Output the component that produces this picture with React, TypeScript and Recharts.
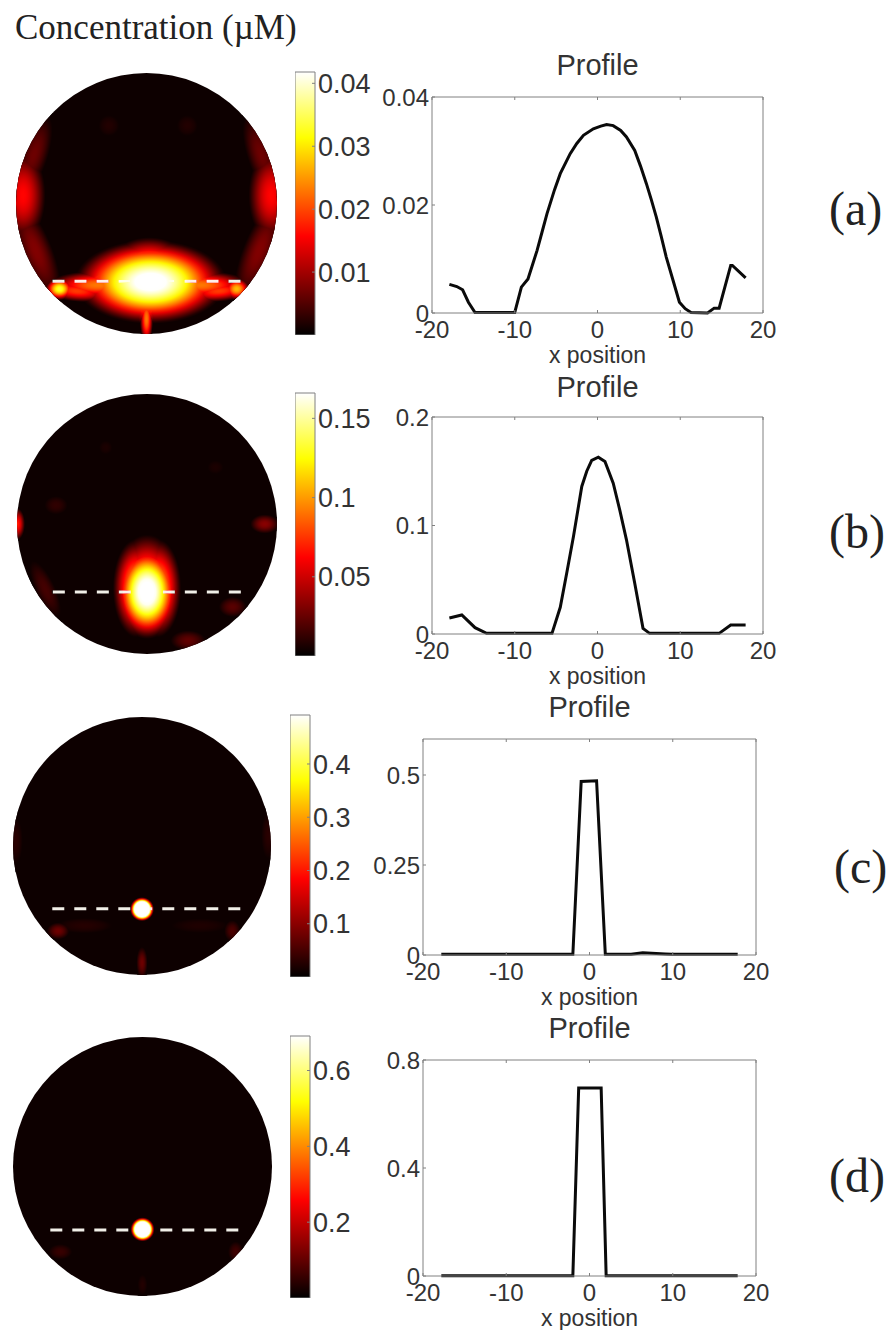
import { Bar, BarChart, Line, LineChart, ReferenceLine, Scatter, ScatterChart, XAxis, YAxis } from "recharts";

// profile along the dashed line
const profileA = [
  [-17.9, 0.0053], [-17, 0.0049], [-16.3, 0.0043], [-15.6, 0.002], [-14.8, 0.0001], [-10, 0.0001],
  [-9.2, 0.0048], [-8.4, 0.0063], [-7.3, 0.0116], [-6.7, 0.015], [-6.1, 0.0184], [-5.2, 0.0228], [-4.5, 0.0258],
  [-3.3, 0.0295], [-2.5, 0.0314], [-1.7, 0.0329], [-0.5, 0.0341], [0.4, 0.0346], [1.1, 0.0349], [1.9, 0.0347],
  [2.8, 0.0338], [3.5, 0.0326], [4.5, 0.0301], [5.2, 0.0272], [5.9, 0.024], [6.5, 0.021], [7.1, 0.0178],
  [7.7, 0.0142], [8.3, 0.0104], [9.1, 0.0062], [9.9, 0.002], [10.6, 0.0008], [11.3, 0.0001], [13.3, 0],
  [14.1, 0.0009], [14.7, 0.0009], [16.1, 0.0088], [16.3, 0.0088], [17.9, 0.0065],
];
const profileB = [
  [-17.9, 0.0148], [-16.4, 0.0175], [-14.8, 0.0058], [-13.4, 0.0006], [-5.5, 0.0006], [-4.5, 0.0246],
  [-3.7, 0.057], [-2.9, 0.09], [-1.9, 0.136], [-1.3, 0.15], [-0.7, 0.16], [0.1, 0.163], [0.9, 0.159], [1.9, 0.139],
  [2.7, 0.114], [3.5, 0.0868], [4.5, 0.0468], [5.5, 0.0052], [6.3, 0.0006], [14.7, 0.0006], [16.1, 0.0083], [17.9, 0.0083],
];
const profileC = [
  [-17.8, 0.002], [-2, 0.002], [-1, 0.482], [0.85, 0.484], [1.9, 0.002], [5, 0.002],
  [6.4, 0.006], [9.1, 0.003], [9.9, 0.002], [17.8, 0.002],
];
const profileD = [
  [-17.8, 0.001], [-2, 0.001], [-1.3, 0.696], [1.4, 0.696], [2, 0.001], [17.8, 0.001],
];

// x, y, half widths (same units as the profile x axis), peak of the colour scale, tilt in degrees
const blobsA = [
  { x: 0.75, y: -14.6, rx: 14.5, ry: 8, v: 1.06, a: 0 },
  { x: 0.5, y: -11.5, rx: 8, ry: 5.5, v: 0.55, a: 0 },
  { x: -7, y: -13.6, rx: 9, ry: 3, v: 0.45, a: -20 },
  { x: 8, y: -13.6, rx: 9, ry: 3, v: 0.45, a: 20 },
  { x: -9, y: -15.2, rx: 10, ry: 2.8, v: 0.55, a: 0 },
  { x: 10, y: -15.2, rx: 10, ry: 2.8, v: 0.55, a: 0 },
  { x: -13, y: -16.3, rx: 7, ry: 2.1, v: 0.46, a: 5 },
  { x: 13.5, y: -16.3, rx: 7, ry: 2.1, v: 0.46, a: -5 },
  { x: -16.2, y: -15.9, rx: 2.8, ry: 2.2, v: 0.8, a: 0 },
  { x: 16.8, y: -15.9, rx: 2.6, ry: 2.2, v: 0.65, a: 0 },
  { x: 0, y: -21.5, rx: 1.3, ry: 5, v: 0.55, a: 0 },
  { x: 0, y: -19, rx: 3.4, ry: 3.8, v: 0.5, a: 0 },
  { x: -23, y: 1.5, rx: 4.5, ry: 9, v: 0.38, a: 0 },
  { x: 23.2, y: 1.5, rx: 4.5, ry: 9, v: 0.38, a: 0 },
  { x: -20.6, y: -8.8, rx: 3.4, ry: 11, v: 0.19, a: -22 },
  { x: 21, y: -8.8, rx: 3.4, ry: 11, v: 0.19, a: 22 },
  { x: -21, y: 9, rx: 3, ry: 9, v: 0.16, a: 18 },
  { x: 21.4, y: 9, rx: 3, ry: 9, v: 0.16, a: -18 },
  { x: -7, y: 14.5, rx: 2.8, ry: 2.8, v: 0.05, a: 0 },
  { x: 7.6, y: 14.5, rx: 2.8, ry: 2.8, v: 0.05, a: 0 },
];
const blobsB = [
  { x: 0, y: -12.7, rx: 6.2, ry: 9, v: 1.1, a: 0 },
  { x: 0, y: -11.5, rx: 6.4, ry: 10, v: 0.6, a: 0 },
  { x: -2, y: -12, rx: 4.6, ry: 9.6, v: 0.62, a: 0 },
  { x: 2, y: -12, rx: 4.6, ry: 9.6, v: 0.62, a: 0 },
  { x: -17, y: 3.5, rx: 2.8, ry: 2.2, v: 0.07, a: 0 },
  { x: -24.3, y: 0, rx: 1.6, ry: 3.2, v: 0.42, a: 0 },
  { x: 22, y: 0, rx: 3, ry: 2, v: 0.2, a: 0 },
  { x: 16, y: -15.5, rx: 3, ry: 2.2, v: 0.13, a: 0 },
  { x: 7.7, y: -21.8, rx: 3.8, ry: 2.2, v: 0.14, a: 0 },
  { x: -19, y: -12.2, rx: 2.2, ry: 7, v: 0.1, a: -25 },
  { x: -7.7, y: 14.3, rx: 2, ry: 2, v: 0.04, a: 0 },
  { x: 12.8, y: 10.6, rx: 2.4, ry: 2, v: 0.04, a: 0 },
];
const blobsC = [
  { x: 0, y: -11.9, rx: 2.3, ry: 2.3, v: 2.2, a: 0 },
  { x: -15.8, y: -16, rx: 2.4, ry: 1.8, v: 0.16, a: 0 },
  { x: 10.9, y: -15, rx: 8, ry: 2, v: 0.045, a: 0 },
  { x: -10.9, y: -15, rx: 7.5, ry: 2, v: 0.055, a: 0 },
  { x: 17, y: -16, rx: 1.8, ry: 2.4, v: 0.11, a: 0 },
  { x: 0, y: -22, rx: 1.2, ry: 3.4, v: 0.16, a: 0 },
  { x: -23.8, y: 1, rx: 1.8, ry: 6, v: 0.06, a: 0 },
  { x: 23.8, y: 2, rx: 1.8, ry: 6, v: 0.06, a: 0 },
];
const blobsD = [
  { x: 0, y: -11.8, rx: 2.3, ry: 2.3, v: 2.2, a: 0 },
  { x: -15.4, y: -16, rx: 2.8, ry: 1.8, v: 0.08, a: 0 },
  { x: 17.5, y: -16, rx: 1.8, ry: 2.4, v: 0.09, a: 0 },
  { x: 0, y: -22.2, rx: 1.3, ry: 2.8, v: 0.05, a: 0 },
];

const dashYA = -14.5;
const dashYB = -12.7;
const dashYC = -11.8;
const dashYD = -11.9;

const dashXA = [-17.5, 18.4];
const dashXB = [-17.6, 18.5];
const dashXC = [-16.9, 19.2];
const dashXD = [-17.3, 19];

const colorMaxA = 0.0418;
const colorMaxB = 0.166;
const colorMaxC = 0.492;
const colorMaxD = 0.691;

const colorTicksA = [0.01, 0.02, 0.03, 0.04];
const colorTicksB = [0.05, 0.1, 0.15];
const colorTicksC = [0.1, 0.2, 0.3, 0.4];
const colorTicksD = [0.2, 0.4, 0.6];

const yMaxA = 0.04;
const yMaxB = 0.2;
const yMaxC = 0.6;
const yMaxD = 0.8;

const yTicksA = [0, 0.02, 0.04];
const yTicksB = [0, 0.1, 0.2];
const yTicksC = [0, 0.25, 0.5];
const yTicksD = [0, 0.4, 0.8];

const xTicks = [-20, -10, 0, 10, 20];
const panelRadius = 24.3;

const GRAY = "#808080";
const INK = "#333";
const SANS = "'Liberation Sans', Arial, sans-serif";
const SERIF = "'Liberation Serif', 'Times New Roman', serif";

const clamp = (n: number) => Math.max(0, Math.min(1, n));

// matlab "hot" colormap
function hot(val: number) {
  const r = Math.round(clamp(val / 0.375) * 255);
  const g = Math.round(clamp((val - 0.375) / 0.375) * 255);
  const b = Math.round(clamp((val - 0.75) / 0.25) * 255);
  return `rgb(${r},${g},${b})`;
}

function HeatPanel({ id, blobs, dashY, dashX, cx, cy, r }: any) {
  const k = r / panelRadius;
  const renderBlob = (props: any) => {
    const b = props.payload;
    const gid = `${id}-${props.index}`;
    const stops = Array.from({ length: 16 }, (_, i) => i / 15);
    return (
      <g>
        <radialGradient id={gid}>
          {stops.map((t) => (
            <stop key={t} offset={t} stopColor={hot(b.v * Math.pow(1 - t * t, 1.5))} />
          ))}
        </radialGradient>
        <ellipse
          cx={props.cx}
          cy={props.cy}
          rx={b.rx * k}
          ry={b.ry * k}
          fill={`url(#${gid})`}
          transform={`rotate(${b.a} ${props.cx} ${props.cy})`}
          style={{ mixBlendMode: "lighten" }}
        />
      </g>
    );
  };
  return (
    <div
      style={{
        position: "absolute",
        left: cx - r,
        top: cy - r,
        width: r * 2,
        height: r * 2,
        borderRadius: "50%",
        overflow: "hidden",
        background: "#0d0000",
        isolation: "isolate",
      }}
    >
      <ScatterChart width={r * 2} height={r * 2} margin={{ top: 0, right: 0, bottom: 0, left: 0 }}>
        <XAxis type="number" dataKey="x" domain={[-panelRadius, panelRadius]} hide />
        <YAxis type="number" dataKey="y" domain={[-panelRadius, panelRadius]} hide />
        <Scatter data={blobs} shape={renderBlob} isAnimationActive={false} />
        <ReferenceLine
          segment={[{ x: dashX[0], y: dashY }, { x: dashX[1], y: dashY }]}
          stroke="#f1efe8"
          strokeWidth={3}
          strokeDasharray="12 10"
        />
      </ScatterChart>
    </div>
  );
}

function ColorBar({ id, max, ticks, left, top, bottom }: any) {
  const barW = 20;
  const labelW = 75;
  const padT = 16;
  return (
    <div style={{ position: "absolute", left, top: top - padT }}>
      <BarChart
        width={barW + labelW}
        height={bottom - top + padT}
        data={[{ name: "scale", v: max }]}
        margin={{ top: padT, right: 0, bottom: 0, left: 0 }}
        barCategoryGap={0}
      >
        <defs>
          <linearGradient id={id} x1="0" y1="1" x2="0" y2="0">
            {[0, 0.375, 0.75, 1].map((t) => (
              <stop key={t} offset={t} stopColor={hot(t)} />
            ))}
          </linearGradient>
        </defs>
        <XAxis dataKey="name" hide />
        <YAxis
          orientation="right"
          width={labelW}
          type="number"
          domain={[0, max]}
          ticks={ticks}
          interval={0}
          axisLine={false}
          tickSize={-3}
          tickMargin={6}
          tickLine={{ stroke: GRAY }}
          tick={{ fill: INK, fontSize: 27, fontFamily: SANS }}
        />
        <Bar dataKey="v" fill={`url(#${id})`} stroke={GRAY} strokeWidth={1} isAnimationActive={false} />
      </BarChart>
    </div>
  );
}

function ProfilePlot({ points, yMax, yTicks, left, right, top, bottom, titleY }: any) {
  const padL = 60;
  const padR = 20;
  const padT = 60;
  const padB = 58;
  const data = points.map(([x, y]: number[]) => ({ x, y }));
  const hiddenTick = () => <g />;
  return (
    <div style={{ position: "absolute", left: left - padL, top: top - padT }}>
      <LineChart
        width={right - left + padL + padR}
        height={bottom - top + padT + padB}
        data={data}
        margin={{ top: 0, right: 0, bottom: 0, left: 0 }}
      >
        <XAxis
          xAxisId="bottom"
          dataKey="x"
          type="number"
          domain={[-20, 20]}
          ticks={xTicks}
          interval={0}
          height={padB}
          stroke={GRAY}
          tickSize={-3}
          tickMargin={11}
          tick={{ fill: INK, fontSize: 24, fontFamily: SANS }}
          label={{ value: "x position", position: "insideBottom", offset: 8, fill: INK, fontSize: 23, fontFamily: SANS }}
        />
        <XAxis
          xAxisId="top"
          orientation="top"
          dataKey="x"
          type="number"
          domain={[-20, 20]}
          ticks={xTicks}
          interval={0}
          height={padT}
          stroke={GRAY}
          tickSize={-3}
          tick={hiddenTick}
          label={{ value: "Profile", position: "insideTop", offset: titleY, fill: INK, fontSize: 29, fontFamily: SANS }}
        />
        <YAxis
          yAxisId="left"
          type="number"
          domain={[0, yMax]}
          ticks={yTicks}
          interval={0}
          width={padL}
          stroke={GRAY}
          tickSize={-3}
          tickMargin={6}
          tick={{ fill: INK, fontSize: 24, fontFamily: SANS }}
        />
        <YAxis
          yAxisId="right"
          orientation="right"
          type="number"
          domain={[0, yMax]}
          ticks={yTicks}
          interval={0}
          width={padR}
          stroke={GRAY}
          tickSize={-3}
          tick={hiddenTick}
        />
        <Line
          xAxisId="bottom"
          yAxisId="left"
          dataKey="y"
          type="linear"
          stroke="#0a0a0a"
          strokeWidth={3}
          dot={false}
          isAnimationActive={false}
        />
      </LineChart>
    </div>
  );
}

const panelLabelStyle = { position: "absolute", fontFamily: SERIF, fontSize: 48, color: "#222", lineHeight: "48px" } as const;

export default function App() {
  return (
    <div style={{ position: "absolute", left: 0, top: 0, width: 887, height: 1330, background: "#fff", overflow: "hidden" }}>
      <div style={{ position: "absolute", left: 15, top: 8, fontFamily: SERIF, fontSize: 35, color: "#222", whiteSpace: "nowrap" }}>
        Concentration (µM)
      </div>

      <HeatPanel id="heatA" blobs={blobsA} dashY={dashYA} dashX={dashXA} cx={146} cy={203} r={130.5} />
      <ColorBar id="hotA" max={colorMaxA} ticks={colorTicksA} left={295} top={72} bottom={335} />
      <ProfilePlot points={profileA} yMax={yMaxA} yTicks={yTicksA} left={432} right={763} top={97} bottom={313} titleY={17} />
      <div style={{ ...panelLabelStyle, left: 829, top: 185 }}>(a)</div>

      <HeatPanel id="heatB" blobs={blobsB} dashY={dashYB} dashX={dashXB} cx={146.5} cy={524} r={130} />
      <ColorBar id="hotB" max={colorMaxB} ticks={colorTicksB} left={295} top={393} bottom={656} />
      <ProfilePlot points={profileB} yMax={yMaxB} yTicks={yTicksB} left={432} right={763} top={417} bottom={634} titleY={19} />
      <div style={{ ...panelLabelStyle, left: 829, top: 508 }}>(b)</div>

      <HeatPanel id="heatC" blobs={blobsC} dashY={dashYC} dashX={dashXC} cx={142} cy={845.5} r={129} />
      <ColorBar id="hotC" max={colorMaxC} ticks={colorTicksC} left={290} top={715} bottom={977} />
      <ProfilePlot points={profileC} yMax={yMaxC} yTicks={yTicksC} left={423} right={756} top={739} bottom={955} titleY={17} />
      <div style={{ ...panelLabelStyle, left: 834, top: 843 }}>(c)</div>

      <HeatPanel id="heatD" blobs={blobsD} dashY={dashYD} dashX={dashXD} cx={142} cy={1166.5} r={129.5} />
      <ColorBar id="hotD" max={colorMaxD} ticks={colorTicksD} left={290} top={1036} bottom={1298} />
      <ProfilePlot points={profileD} yMax={yMaxD} yTicks={yTicksD} left={423} right={756} top={1060} bottom={1276} titleY={17} />
      <div style={{ ...panelLabelStyle, left: 829, top: 1152 }}>(d)</div>
    </div>
  );
}
